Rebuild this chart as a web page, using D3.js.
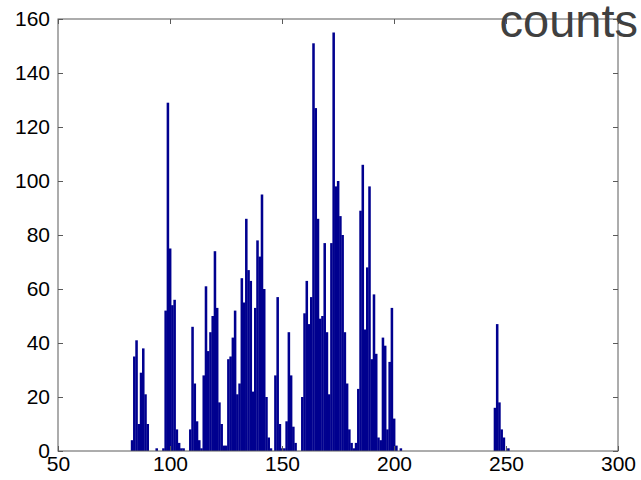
<!DOCTYPE html>
<html lang="en">
<head>
    <meta charset="UTF-8">
    <title>counts</title>
    <script src="https://d3js.org/d3.v7.min.js"></script>
    <style>
        body { margin: 0; background: #fff; }
        svg { display: block; }
        .tick text { font-family: "Liberation Sans", Arial, sans-serif; font-size: 21px; fill: #000; }
    </style>
</head>
<body>
    <svg id="chart" width="641" height="480"></svg>

    <script>
        // histogram bins (centre of each bin) and counts
        const bins = [83, 84, 85, 86, 87, 88, 89, 90, 94, 97,
            98, 99, 100, 101, 102, 103, 104, 105, 106, 109,
            110, 111, 112, 113, 114, 115, 116, 117, 118, 119,
            120, 121, 122, 123, 124, 125, 126, 127, 128, 129,
            130, 131, 132, 133, 134, 135, 136, 137, 138, 139,
            140, 141, 142, 143, 144, 145, 147, 148, 149, 150,
            151, 152, 153, 154, 155, 156, 159, 160, 161, 162,
            163, 164, 165, 166, 167, 168, 169, 170, 171, 172,
            173, 174, 175, 176, 177, 178, 179, 180, 181, 182,
            183, 184, 185, 186, 187, 188, 189, 190, 191, 192,
            193, 194, 195, 196, 197, 198, 199, 200, 201, 203,
            245, 246, 247, 248, 249, 251];
        const counts = [4, 35, 41, 10, 29, 38, 21, 10, 1, 1,
            52, 129, 75, 54, 56, 8, 3, 1, 1, 8,
            46, 25, 11, 4, 1, 28, 61, 37, 44, 50,
            74, 53, 18, 10, 2, 2, 34, 35, 42, 52,
            21, 25, 64, 55, 86, 67, 63, 22, 53, 78,
            72, 95, 60, 20, 5, 1, 28, 57, 10, 1,
            1, 11, 44, 28, 9, 3, 20, 51, 63, 47,
            57, 151, 127, 86, 49, 50, 77, 44, 21, 77,
            155, 98, 100, 87, 80, 44, 25, 8, 3, 1,
            3, 23, 89, 106, 45, 68, 98, 34, 58, 36,
            5, 4, 42, 39, 8, 33, 53, 12, 2, 1,
            16, 47, 18, 8, 5, 1];

        const xTicks = [50, 100, 150, 200, 250, 300];
        const yTicks = [0, 20, 40, 60, 80, 100, 120, 140, 160];

        const plotLeft = 58, plotRight = 618, plotTop = 19, plotBottom = 451;
        const svg = d3.select("#chart");

        const x = d3.scaleLinear().domain([50, 300]).range([plotLeft, plotRight]);
        const y = d3.scaleLinear().domain([0, 160]).range([plotBottom, plotTop]);

        const data = bins.map((b, i) => ({ bin: b, count: counts[i] }));

        // bars
        svg.append("g")
            .selectAll("rect")
            .data(data)
            .enter()
            .append("rect")
            .attr("x", d => x(d.bin - 0.5))
            .attr("width", d => x(d.bin + 0.5) - x(d.bin - 0.5) + 0.3)
            .attr("y", d => y(d.count))
            .attr("height", d => y(0) - y(d.count))
            .attr("fill", "#00008f");

        // axes, ticks pointing inwards on all four sides
        const axisColor = "#5a5a5a";

        const gx = svg.append("g").attr("transform", `translate(0,${plotBottom})`)
            .call(d3.axisBottom(x).tickValues(xTicks).tickSizeInner(-5).tickSizeOuter(0).tickPadding(9));
        const gxTop = svg.append("g").attr("transform", `translate(0,${plotTop})`)
            .call(d3.axisTop(x).tickValues(xTicks).tickSizeInner(-5).tickSizeOuter(0).tickFormat(""));
        const gy = svg.append("g").attr("transform", `translate(${plotLeft},0)`)
            .call(d3.axisLeft(y).tickValues(yTicks).tickSizeInner(-5).tickSizeOuter(0).tickPadding(8));
        const gyRight = svg.append("g").attr("transform", `translate(${plotRight},0)`)
            .call(d3.axisRight(y).tickValues(yTicks).tickSizeInner(-5).tickSizeOuter(0).tickFormat(""));

        [gx, gxTop, gy, gyRight].forEach(g => {
            g.select(".domain").remove();
            g.selectAll(".tick line").attr("stroke", axisColor);
        });
        gx.selectAll(".tick text").attr("dy", "0.5em");

        svg.append("rect")
            .attr("x", plotLeft).attr("y", plotTop)
            .attr("width", plotRight - plotLeft).attr("height", plotBottom - plotTop)
            .attr("fill", "none")
            .attr("stroke", axisColor)
            .attr("stroke-width", 1);

        // title in the top right corner
        svg.append("text")
            .attr("x", 638)
            .attr("y", 37)
            .attr("text-anchor", "end")
            .style("font-family", "Liberation Sans, Arial, sans-serif")
            .style("font-size", "47px")
            .style("fill", "#404040")
            .text("counts");
    </script>
</body>
</html>
